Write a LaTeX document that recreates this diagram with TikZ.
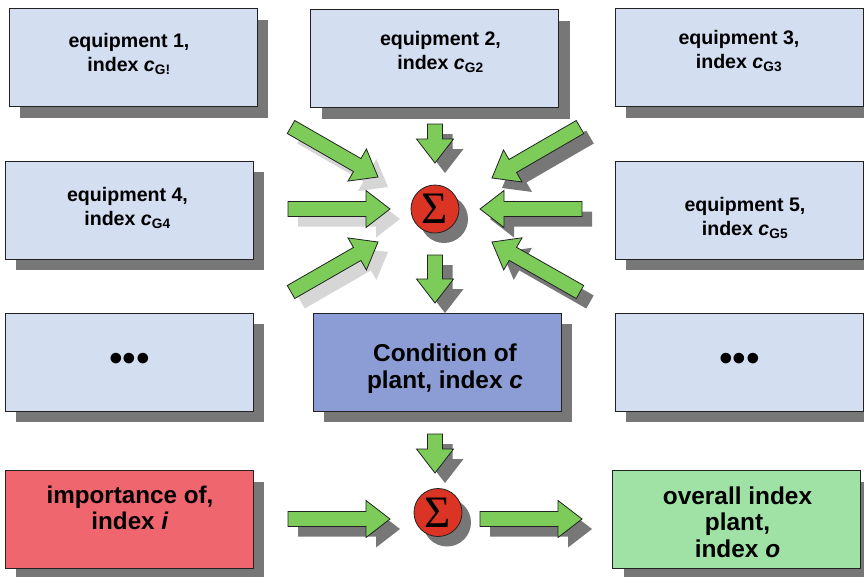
\documentclass[tikz,border=0pt]{standalone}
\usepackage{fontspec}
\setmainfont{Liberation Sans}
\newfontfamily\sigmafont{Liberation Serif}
\usetikzlibrary{calc}

\definecolor{paleblue}{HTML}{D3DEF1}
\definecolor{plantblue}{HTML}{8B9DD4}
\definecolor{rosered}{HTML}{F0666F}
\definecolor{mintgreen}{HTML}{A0E2A6}
\definecolor{flowgreen}{HTML}{7DCC5A}
\definecolor{sumred}{HTML}{DC3424}
\definecolor{outline}{HTML}{222222}
\definecolor{darkshade}{HTML}{777777}
\definecolor{lightshade}{HTML}{D6D6D6}

\tikzset{
  panel/.style={draw=outline, line width=0.9pt, minimum width=248pt,
    minimum height=98pt, inner sep=0pt,
    preaction={fill=darkshade, transform canvas={shift={(11pt,-11pt)}}}},
  smalltext/.style={inner sep=0pt, anchor=north, align=center,
    font=\bfseries\fontsize{19.6}{23.5}\selectfont},
  bigtext/.style={inner sep=0pt, anchor=north, align=center,
    font=\bfseries\fontsize{24.4}{27.5}\selectfont},
  sumnode/.style={circle, draw=outline, line width=0.8pt, fill=sumred,
    minimum size=48pt, inner sep=0pt,
    preaction={fill=darkshade, transform canvas={shift={(9pt,-10pt)}}}},
  sumsign/.style={inner sep=0pt, font=\sigmafont\fontsize{45}{45}\selectfont},
  dots/.style={inner sep=0pt, font=\fontsize{39}{39}\selectfont},
}

% block arrow outline from tail #1 to tip #2
\newcommand\arrowoutline[2]{%
  ($(#1)!7.5pt!90:(#2)$) -- ($(hb)!7.5pt!90:(#2)$) --
  ($(hb)!18.5pt!90:(#2)$) -- (#2) -- ($(hb)!18.5pt!-90:(#2)$) --
  ($(hb)!7.5pt!-90:(#2)$) -- ($(#1)!7.5pt!-90:(#2)$) -- cycle}
% #1 shadow colour, #2 tail, #3 tip
\newcommand\flowarrow[3]{%
  \coordinate (hb) at ($(#3)!24pt!(#2)$);
  \fill[#1, transform canvas={shift={(10pt,-10pt)}}] \arrowoutline{#2}{#3};
  \filldraw[fill=flowgreen, draw=outline, line width=0.8pt, line join=miter]
    \arrowoutline{#2}{#3};}

\begin{document}
\begin{tikzpicture}[x=1pt, y=-1pt]
\useasboundingbox (0,0) rectangle (864,576);

% equipment panels
\node[panel, fill=paleblue] (e1) at (133,57.5) {};
\node[panel, fill=paleblue] (e2) at (434.5,58.5) {};
\node[panel, fill=paleblue] (e3) at (739,57.5) {};
\node[panel, fill=paleblue] (e4) at (129,210) {};
\node[panel, fill=paleblue] (e5) at (739,210) {};
\node[panel, fill=paleblue] (more1) at (129,362) {};
\node[panel, fill=plantblue] (plant) at (437,362) {};
\node[panel, fill=paleblue] (more2) at (739,362) {};
\node[panel, fill=rosered] (imp) at (129,519.5) {};
\node[panel, fill=mintgreen] (overall) at (736.5,519.5) {};

% panel texts
\node[smalltext] (t1) at (129,33.3) {equipment 1,\\index \textit{c}\textsubscript{G!}};
\node[smalltext] (t2) at (440.5,31.5) {equipment 2,\\index \textit{c}\textsubscript{G2}};
\node[smalltext] (t3) at (739,30.5) {equipment 3,\\index \textit{c}\textsubscript{G3}};
\node[smalltext] (t4) at (127.5,187.5) {equipment 4,\\index \textit{c}\textsubscript{G4}};
\node[smalltext] (t5) at (745,197.3) {equipment 5,\\index \textit{c}\textsubscript{G5}};
\node[dots] (d1) at (129.5,362) {•••};
\node[dots] (d2) at (739.5,362) {•••};
\node[bigtext] (tp) at (445,343.4) {Condition of\\plant, index \textit{c}};
\node[bigtext, font=\bfseries\fontsize{24.2}{26.5}\selectfont] (ti) at (130,485.5)
  {importance of,\\index \textit{i}};
\node[bigtext, font=\bfseries\fontsize{24.4}{26.5}\selectfont] (to) at (737.5,486.2)
  {overall index\\plant,\\index \textit{o}};

% summing points
\node[sumnode] (s1) at (435,209) {};
\node[sumsign] (g1) at (s1.center) {Σ};
\node[sumnode] (s2) at (438,512.5) {};
\node[sumsign] (g2) at (s2.center) {Σ};

% arrow end points
\coordinate (a1t) at (291,127);   \coordinate (a1h) at (378,177);
\coordinate (a2t) at (435,124);   \coordinate (a2h) at (435,163);
\coordinate (a3t) at (580,127);   \coordinate (a3h) at (492,178);
\coordinate (a4t) at (288,209);   \coordinate (a4h) at (390,209);
\coordinate (a5t) at (582,209);   \coordinate (a5h) at (480,209);
\coordinate (a6t) at (291,292);   \coordinate (a6h) at (378,242);
\coordinate (a7t) at (580,292);   \coordinate (a7h) at (492,242);
\coordinate (a8t) at (435,255);   \coordinate (a8h) at (435,303);
\coordinate (a9t) at (435,434);   \coordinate (a9h) at (435,473);
\coordinate (a10t) at (288,519);  \coordinate (a10h) at (390,519);
\coordinate (a11t) at (480,519);  \coordinate (a11h) at (582,519);

\flowarrow{lightshade}{a1t}{a1h}
\flowarrow{darkshade}{a2t}{a2h}
\flowarrow{darkshade}{a3t}{a3h}
\flowarrow{lightshade}{a4t}{a4h}
\flowarrow{darkshade}{a5t}{a5h}
\flowarrow{lightshade}{a6t}{a6h}
\flowarrow{darkshade}{a7t}{a7h}
\flowarrow{darkshade}{a8t}{a8h}
\flowarrow{darkshade}{a9t}{a9h}
\flowarrow{darkshade}{a10t}{a10h}
\flowarrow{darkshade}{a11t}{a11h}
\end{tikzpicture}
\end{document}
